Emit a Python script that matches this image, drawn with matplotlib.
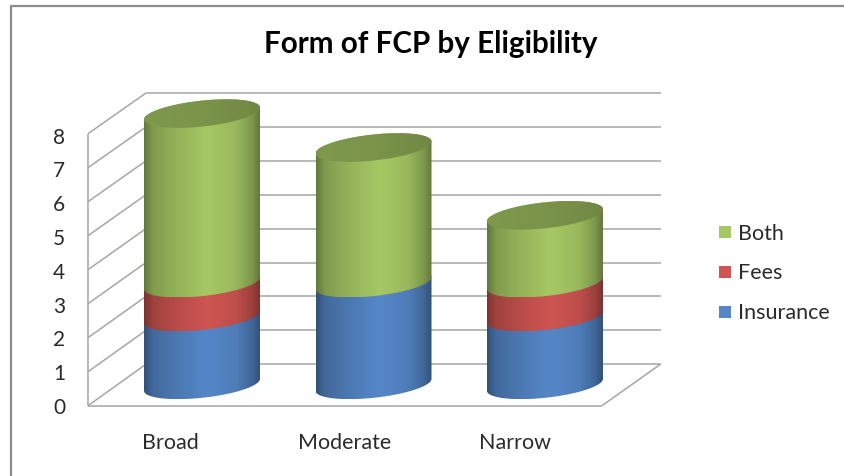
import numpy as np
import matplotlib
matplotlib.use('Agg')
import matplotlib.pyplot as plt
from matplotlib.colors import LinearSegmentedColormap, to_rgb
from matplotlib.patches import PathPatch, Rectangle
from matplotlib.path import Path

plt.rcParams['font.family'] = ['Lato', 'DejaVu Sans']

title = 'Form of FCP by Eligibility'
categories = ['Broad', 'Moderate', 'Narrow']
insurance = [2, 3, 2]
fees = [1, 0, 1]
both = [5, 4, 2]
series_names = ['Insurance', 'Fees', 'Both']
series_colors = ['#5587c8', '#ce5552', '#a6c864']
y_ticks = list(range(9))

W, H = 844, 477
X0, X_UNIT = 202, 171.5    # pixel of first category, pixels per category
Y0, Y_UNIT = 385.8, 33.9   # pixel of value 0 at the bars, pixels per value
HALF_W = 58 / X_UNIT
RY = 13 / Y_UNIT
SHEAR = 6 / Y_UNIT
GRID = '#a6a6a6'
TEXT = '#2b2b2b'

fig = plt.figure(figsize=(W / 100, H / 100), dpi=100)
ax = fig.add_axes([0, 0, 1, 1])
ax.axis('off')
xlim = (-X0 / X_UNIT, (W - X0) / X_UNIT)
ylim = ((Y0 - H) / Y_UNIT, Y0 / Y_UNIT)


def px(x, y):
    return (x - X0) / X_UNIT, (Y0 - y) / Y_UNIT


def wall_line(p, q, **kw):
    a, b = px(*p), px(*q)
    ax.plot([a[0], b[0]], [a[1], b[1]], color=GRID, lw=1.1, solid_capstyle='butt', zorder=1, **kw)


def shaded(base, factors):
    rgb = np.array(to_rgb(base))
    return LinearSegmentedColormap.from_list('s', [(p, tuple(np.clip(rgb * f, 0, 1))) for p, f in factors])


body_stops = [(0, .6), (.08, .78), (.3, .9), (.55, 1), (.8, .92), (.93, .76), (1, .6)]
cap_stops = [(0, .76), (.5, .74), (1, .68)]


def ellipse_pts(cx, v, t):
    return np.column_stack([cx + HALF_W * np.cos(t), v + SHEAR * np.cos(t) + RY * np.sin(t)])


def fill_gradient(verts, cx, base, stops, z):
    patch = PathPatch(Path(np.vstack([verts, verts[0]]), closed=True), fc='none', ec='none', zorder=z)
    ax.add_patch(patch)
    grad = np.linspace(0, 1, 256).reshape(1, -1)
    im = ax.imshow(grad, cmap=shaded(base, stops), aspect='auto', interpolation='bilinear',
                   extent=(cx - HALF_W, cx + HALF_W, verts[:, 1].min(), verts[:, 1].max()), zorder=z)
    im.set_clip_path(patch)


def draw_cylinder(cx, values):
    bottom = 0
    z = 3
    for value, color in zip(values, series_colors):
        if value == 0:
            continue
        top = bottom + value
        front = ellipse_pts(cx, bottom, np.linspace(np.pi, 2 * np.pi, 80))
        back = ellipse_pts(cx, top, np.linspace(0, np.pi, 80))
        fill_gradient(np.vstack([front, back]), cx, color, body_stops, z)
        bottom = top
        z += 1
        last = color
    cap = ellipse_pts(cx, bottom, np.linspace(0, 2 * np.pi, 160))
    fill_gradient(cap, cx, last, cap_stops, z)


# outer chart frame
ax.plot(*zip(px(10.5, H), px(10.5, 6.5), px(W, 6.5)), color='#8c8c8c', lw=1.6, zorder=1)

# walls and gridlines
for v in y_ticks:
    front_y = 406.7 - 34 * v
    back_y = 365.2 - 33.9 * v
    wall_line((88, front_y), (146, back_y))
    wall_line((146, back_y), (660.5, back_y))
wall_line((88, 134.7), (88, 406.7))
wall_line((88, 406.7), (602, 406.7))
wall_line((602, 406.7), (660.5, 365.2))

for i in range(len(categories)):
    draw_cylinder(i, [insurance[i], fees[i], both[i]])

ax.set_xlim(xlim)
ax.set_ylim(ylim)

# text
tx, ty = px(431, 44)
ax.text(tx, ty, title, fontsize=21.3, fontweight='bold', color='black', ha='center', va='center')
for v in y_ticks:
    tx, ty = px(59, 408 - 33.8 * v)
    ax.text(tx, ty, str(v), fontsize=15, color=TEXT, ha='center', va='center')
for name, xp in zip(categories, [170, 344.5, 515]):
    tx, ty = px(xp, 443)
    ax.text(tx, ty, name, fontsize=15.5, color=TEXT, ha='center', va='center')

# legend
for name, color, yp in zip(series_names, series_colors, [312.5, 272.5, 233]):
    a = px(719, yp + 6)
    ax.add_patch(Rectangle(a, 12 / X_UNIT, 12 / Y_UNIT, fc=color, ec='none', zorder=5))
    tx, ty = px(737.5, yp + 0.5)
    ax.text(tx, ty, name, fontsize=15.5, color=TEXT, ha='left', va='center')

fig.savefig('out.png', dpi=100)
